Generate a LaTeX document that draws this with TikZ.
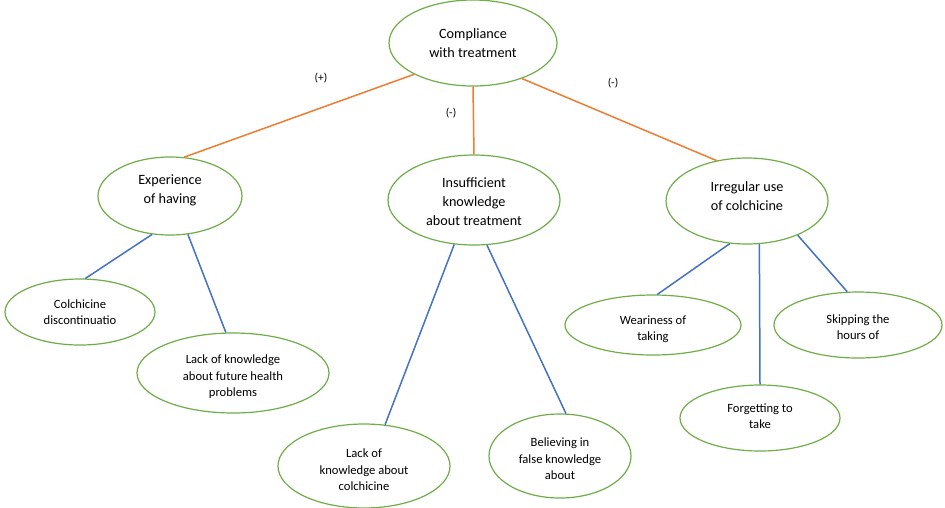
\documentclass[tikz,border=0pt]{standalone}
\usepackage{fontspec}
\setmainfont{Carlito}
\usetikzlibrary{shapes.geometric}
\definecolor{egreen}{HTML}{70AD47}
\definecolor{eorange}{HTML}{ED7D31}
\definecolor{eblue}{HTML}{4472C4}
\tikzset{
  ell/.style={draw=egreen, line width=1.2pt, ellipse, inner sep=0pt, fill=white},
  bigtxt/.style={align=center, inner sep=0pt, font={\fontsize{14.2}{19}\selectfont}},
  smalltxt/.style={align=center, inner sep=0pt, font={\fontsize{12.6}{16.5}\selectfont}},
  sgn/.style={inner sep=0pt, font={\fontsize{11.5}{13}\selectfont}},
  oline/.style={draw=eorange, line width=1.5pt},
  bline/.style={draw=eblue, line width=1.5pt}
}
\begin{document}
\begin{tikzpicture}[x=1pt,y=-1pt]
\useasboundingbox[fill=white] (0,0) rectangle (945,507);
% ellipses
\node[ell, minimum width=168pt, minimum height=86pt] (comp) at (473,43) {};
\node[ell, minimum width=144pt, minimum height=78pt] (exp) at (170,196) {};
\node[ell, minimum width=172pt, minimum height=90pt] (ins) at (474,200) {};
\node[ell, minimum width=162pt, minimum height=86pt] (irr) at (747,201) {};
\node[ell, minimum width=150pt, minimum height=66pt] (disc) at (80,312) {};
\node[ell, minimum width=192pt, minimum height=80pt] (fut) at (233,373) {};
\node[ell, minimum width=172pt, minimum height=84pt] (lkc) at (364,466) {};
\node[ell, minimum width=142pt, minimum height=84pt] (bel) at (560,456) {};
\node[ell, minimum width=176pt, minimum height=60pt] (wea) at (653,325) {};
\node[ell, minimum width=168pt, minimum height=66pt] (skp) at (858,325) {};
\node[ell, minimum width=160pt, minimum height=66pt] (fgt) at (760,418) {};
% texts
\node[bigtxt] (compT) at (473,43) {Compliance\\with treatment};
\node[bigtxt] (expT) at (170,190) {Experience\\of having};
\node[bigtxt] (insT) at (474,202) {Insufficient\\knowledge\\about treatment};
\node[bigtxt] (irrT) at (747,196) {Irregular use\\of colchicine};
\node[smalltxt] (discT) at (80,312) {Colchicine\\discontinuatio};
\node[smalltxt] (futT) at (233,377) {Lack of knowledge\\about future health\\problems};
\node[smalltxt] (lkcT) at (364,470) {Lack of\\knowledge about\\colchicine};
\node[smalltxt] (belT) at (560,459) {Believing in\\false knowledge\\about};
\node[smalltxt] (weaT) at (653,329) {Weariness of\\taking};
\node[smalltxt] (skpT) at (858,327) {Skipping the\\hours of};
\node[smalltxt] (fgtT) at (760,416) {Forgetting to\\take};
% signs
\node[sgn] (s1) at (321,78) {(+)};
\node[sgn] (s2) at (451,113) {(-)};
\node[sgn] (s3) at (613,83) {(-)};
% connectors
\draw[oline] (comp.208) -- (exp.70);
\draw[oline] (comp.270) -- (ins.90);
\draw[oline] (comp.324) -- (irr.127);
\draw[bline] (exp.245) -- (disc.81);
\draw[bline] (exp.295) -- (fut.100);
\draw[bline] (ins.246) -- (lkc.63);
\draw[bline] (ins.286) -- (bel.82);
\draw[bline] (irr.248) -- (wea.82);
\draw[bline] (irr.286) -- (fgt.90);
\draw[bline] (irr.326) -- (skp.108);
\end{tikzpicture}
\end{document}
